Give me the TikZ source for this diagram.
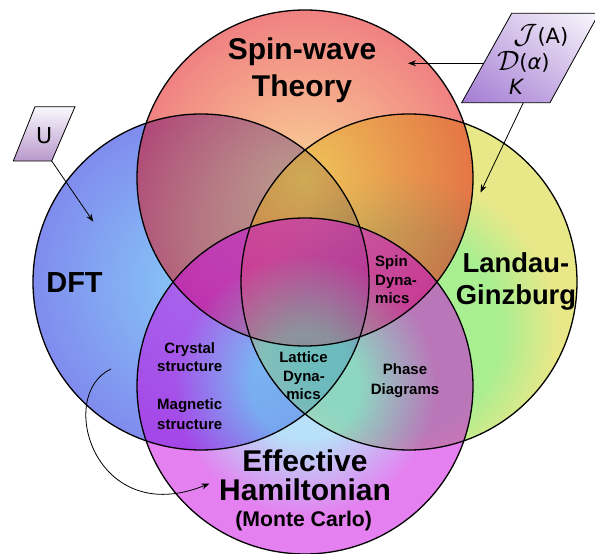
\documentclass[tikz,border=0pt]{standalone}
\usepackage{fontspec}
\usepackage{graphicx}
\setmainfont{Liberation Sans}
\newfontfamily\dvs{DejaVu Sans}
\usetikzlibrary{arrows.meta,shadings}
\definecolor{topin}{HTML}{F5A52D}
\definecolor{topout}{HTML}{E10505}
\definecolor{leftin}{HTML}{1199F1}
\definecolor{leftout}{HTML}{0119DD}
\definecolor{rightin}{HTML}{55DD25}
\definecolor{rightout}{HTML}{D1D111}
\definecolor{botin}{HTML}{71C1F1}
\definecolor{botout}{HTML}{C901E1}
\definecolor{parDark}{HTML}{A47CD4}
\definecolor{parMid}{HTML}{CDB8E6}
\definecolor{parLight}{HTML}{FAF8FD}
\definecolor{uDark}{HTML}{B898CC}
\pgfdeclareradialshading{rightshade}{\pgfpointorigin}{color(0bp)=(rightin); color(11bp)=(rightin); color(17bp)=(rightout); color(50bp)=(rightout)}
\pgfdeclareradialshading{botshade}{\pgfpointorigin}{color(0bp)=(botin); color(8bp)=(botin); color(19.5bp)=(botout); color(50bp)=(botout)}
\tikzset{
  vfill/.style={fill opacity=0.5},
  vring/.style={draw=black, line width=1.3pt},
  bigtxt/.style={font=\fontsize{30}{36}\selectfont\bfseries, anchor=base, inner sep=0pt},
  midtxt/.style={font=\fontsize{27.4}{32}\selectfont\bfseries, anchor=base, inner sep=0pt},
  smalltxt/.style={font=\fontsize{15}{18}\selectfont\bfseries, anchor=base, inner sep=0pt},
  partxt/.style={font=\fontsize{21}{25}\selectfont\dvs, anchor=base, inner sep=0pt},
  parbox/.style={draw=black, line width=0.8pt},
  conn/.style={draw=black, line width=0.8pt, -{Stealth[length=8pt,width=6pt]}},
}
\newcommand{\bigcal}[1]{\raisebox{-0.5pt}{\scalebox{1.35}{$\mathcal{#1}$}}}
\begin{document}
\begin{tikzpicture}[x=1pt,y=1pt]
\useasboundingbox (0,0) rectangle (595,554);
\begin{scope}
\clip (0,0) rectangle (595,554);
% circle centres
\coordinate (cT) at (305,376);
\coordinate (cL) at (201,272);
\coordinate (cR) at (409,272);
\coordinate (cB) at (305,168);
\coordinate (fR) at (400,224);
% fills
\shade[vfill, inner color=leftin, outer color=leftout] (cL) circle (168);
\begin{scope}
  \clip (cR) circle (168);
  \shade[vfill, shading=rightshade] (fR) circle (230);
\end{scope}
\shade[vfill, inner color=topin, outer color=topout] (cT) circle (168);
\shade[vfill, shading=botshade] (cB) circle (168);
% outlines
\draw[vring] (cL) circle (168);
\draw[vring] (cR) circle (168);
\draw[vring] (cT) circle (168);
\draw[vring] (cB) circle (168);

% main labels
\node[bigtxt] (sw1) at (302,494) {Spin-wave};
\node[bigtxt] (sw2) at (302,457) {Theory};
\node[font=\fontsize{29}{34}\selectfont\bfseries, anchor=base, inner sep=0pt] (dft) at (74.5,261) {DFT};
\node[midtxt] (lg1) at (516,281) {Landau-};
\node[midtxt] (lg2) at (516,249) {Ginzburg};
\node[bigtxt] (eh1) at (305,82) {Effective};
\node[bigtxt] (eh2) at (305,53.3) {Hamiltonian};
\node[font=\fontsize{21.2}{25}\selectfont\bfseries, anchor=base, inner sep=0pt] (eh3) at (303.7,27.3) {(Monte Carlo)};

% region labels
\node[smalltxt] (cs1) at (189.7,200.7) {Crystal};
\node[smalltxt] (cs2) at (189.7,182.3) {structure};
\node[smalltxt] (ms1) at (189.7,144) {Magnetic};
\node[smalltxt] (ms2) at (189.7,124.7) {structure};
\node[smalltxt, anchor=base west] (sd1) at (375,287.3) {Spin};
\node[smalltxt, anchor=base west] (sd2) at (375,268) {Dyna-};
\node[smalltxt, anchor=base west] (sd3) at (375,250) {mics};
\node[smalltxt] (ld1) at (303.5,191.3) {Lattice};
\node[smalltxt] (ld2) at (304,172.3) {Dyna-};
\node[smalltxt] (ld3) at (303.5,154) {mics};
\node[smalltxt] (pd1) at (405,179) {Phase};
\node[smalltxt] (pd2) at (405,159.7) {Diagrams};

% parameter box J, D, K
\shadedraw[parbox, lower left=parDark, upper right=parLight, upper left=parMid, lower right=parMid]
  (511.7,540.7) -- (599,540.7) -- (550,451.3) -- (461.7,451.3) -- cycle;
\node[partxt] (pJ) at (540.8,510.7) {\bigcal{J}(A)};
\node[partxt] (pD) at (523.3,484) {\bigcal{D}(\textit{α})};
\node[partxt] (pK) at (516.7,459) {\textit{K}};
% parameter box U
\shadedraw[parbox, top color=parLight, bottom color=uDark]
  (35,447.3) -- (75,447.3) -- (51.7,393) -- (13.3,393) -- cycle;
\node[partxt, font=\fontsize{22}{26}\selectfont\dvs] (pU) at (44.2,410.7) {U};

% connector end points
\coordinate (aJs) at (483.7,490.7);
\coordinate (aJe) at (408,490.7);
\coordinate (aKs) at (523.3,451.3);
\coordinate (aKe) at (480.5,361.5);
\coordinate (aUs) at (51.7,393);
\coordinate (aUe) at (93.3,332.3);
\coordinate (aCs) at (111,185);
\coordinate (aCe) at (209.5,70.5);

\draw[conn] (aJs) -- (aJe);
\draw[conn] (aKs) -- (aKe);
\draw[conn] (aUs) -- (aUe);
\draw[conn] (aCs) .. controls (55,159) and (95,24) .. (aCe);
\end{scope}
\end{tikzpicture}
\end{document}
